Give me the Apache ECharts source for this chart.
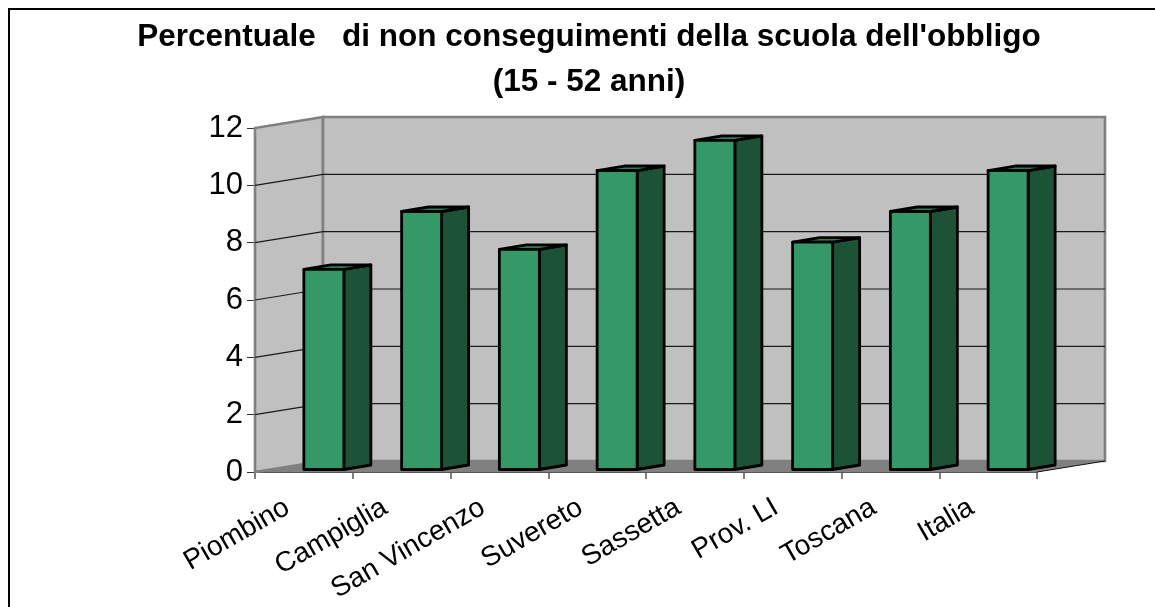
<!DOCTYPE html>
<html><head><meta charset="utf-8">
<style>html,body{margin:0;padding:0;background:#fff}#c{width:1155px;height:607px}</style>
<script src="https://cdn.jsdelivr.net/npm/echarts@6/dist/echarts.min.js"></script>
</head><body><div id="c"></div>
<script>
const categories = ['Piombino','Campiglia','San Vincenzo','Suvereto','Sassetta','Prov. LI','Toscana','Italia'];
const values = [6.98, 9.0, 7.68, 10.43, 11.48, 7.93, 9.0, 10.43];
const yTicks = [0, 2, 4, 6, 8, 10, 12];
const titleText = "Percentuale   di non conseguimenti della scuola dell'obbligo\n(15 - 52 anni)";

const DX = 68, DY = 11;          // wall depth projection
const BW = 40, BDX = 27, BDY = 4.5; // bar width and depth
const BOX = 20, BOY = 2.5;          // bar offset from the front axis plane

const chart = echarts.init(document.getElementById('c'), null, {renderer:'canvas'});

function renderWalls(params, api) {
  const c0 = api.coord([0, 0]), c1 = api.coord([7, 12]);
  const cs = params.coordSys;
  const L = cs.x, R = cs.x + cs.width, B = c0[1], T = c1[1];
  const kids = [];
  const wall = {fill:'#C0C0C0', stroke:'#808080', lineWidth:2.6};
  kids.push({type:'polygon', shape:{points:[[L,B],[L,T],[L+DX,T-DY],[L+DX,B-DY]]}, style:wall});
  kids.push({type:'polygon', shape:{points:[[L+DX,T-DY],[R+DX,T-DY],[R+DX,B-DY],[L+DX,B-DY]]}, style:wall});
  kids.push({type:'polygon', shape:{points:[[L,B],[L+DX,B-DY],[R+DX,B-DY],[R,B]]}, style:{fill:'#808080', stroke:'none'}});
  yTicks.forEach(v => {
    if (v === 0 || v === 12) return;
    const y = api.coord([0, v])[1];
    kids.push({type:'polyline', shape:{points:[[L,y],[L+DX,y-DY],[R+DX,y-DY]]}, style:{fill:'none', stroke:'#1a1a1a', lineWidth:1.1}});
  });
  kids.push({type:'line', shape:{x1:R,y1:B,x2:R+DX,y2:B-DY}, style:{stroke:'#111', lineWidth:1}});
  return {type:'group', children:kids};
}
function renderBar(params, api) {
  const p = api.coord([api.value(0), api.value(1)]);
  const base = api.coord([api.value(0), 0]);
  const x0 = p[0] + BOX - BW/2, x1 = x0 + BW, yT = p[1] - BOY, yB = base[1] - BOY;
  const st = {stroke:'#000', lineWidth:2.8, lineJoin:'round'};
  return {type:'group', children:[
    {type:'polygon', shape:{points:[[x1,yT],[x1+BDX,yT-BDY],[x1+BDX,yB-BDY],[x1,yB]]}, style:Object.assign({fill:'#1C5337'},st)},
    {type:'polygon', shape:{points:[[x0,yT],[x0+BDX,yT-BDY],[x1+BDX,yT-BDY],[x1,yT]]}, style:Object.assign({fill:'#2B8058'},st)},
    {type:'rect', shape:{x:x0,y:yT,width:BW,height:yB-yT}, style:Object.assign({fill:'#339966'},st)}
  ]};
}

chart.setOption({
  animation:false,
  backgroundColor:'#fff',
  graphic:[{type:'rect', z:-1, silent:true, shape:{x:9,y:9,width:1300,height:800}, style:{fill:'#fff',stroke:'#000',lineWidth:2}}],
  title:{text:titleText, left:584, top:10, textAlign:'center',
    textStyle:{fontFamily:'Liberation Sans', fontSize:31.5, fontWeight:'bold', color:'#000', lineHeight:45}},
  grid:{left:255, right:118, top:128, bottom:135},
  xAxis:{type:'category', data:categories, boundaryGap:true,
    axisLine:{show:true, onZero:false, lineStyle:{color:'#222', width:1.5}},
    axisTick:{show:true, length:7, lineStyle:{color:'#555', width:1.5}},
    axisLabel:{interval:0, rotate:30, margin:24, padding:[0,19,0,0], color:'#000', fontFamily:'Liberation Sans', fontSize:28},
    splitLine:{show:false}},
  yAxis:{type:'value', min:0, max:12, interval:2,
    axisLine:{show:true, lineStyle:{color:'#555', width:2}},
    axisTick:{show:true, length:8, lineStyle:{color:'#333', width:1}},
    axisLabel:{margin:12, padding:[4,0,0,0], color:'#000', fontFamily:'Liberation Sans', fontSize:31},
    splitLine:{show:false}},
  series:[
    {type:'custom', coordinateSystem:'cartesian2d', renderItem:renderWalls, data:[[0,0]], z:1, clip:false, silent:true},
    {type:'custom', coordinateSystem:'cartesian2d', renderItem:renderBar, data:values.map((v,i)=>[i,v]), z:2, clip:false, silent:true}
  ]
});
</script></body></html>
